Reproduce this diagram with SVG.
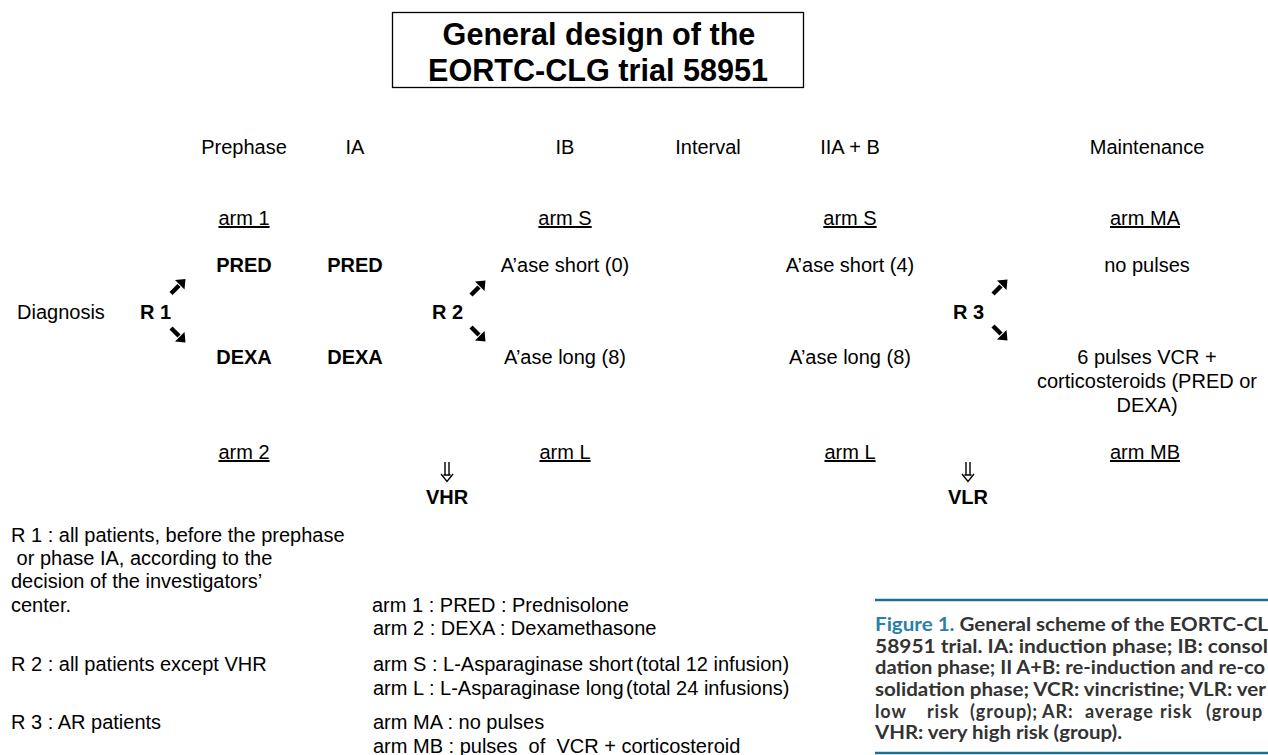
<svg xmlns="http://www.w3.org/2000/svg" width="1268" height="755" viewBox="0 0 1268 755">
<style>
text{font-family:"Liberation Sans",Arial,sans-serif;font-size:20px;fill:#000}
.c{text-anchor:middle}
.b{font-weight:bold}
.u{text-decoration:underline}
.t{font-size:30.6px;font-weight:bold;text-anchor:middle}
.cap{font-family:Lato,"Open Sans",sans-serif;font-size:18px;font-weight:bold;fill:#333}
.fig{fill:#2a80a8}
.dn{fill:none;stroke:#000;stroke-width:1.4}
</style>
<defs>
<g id="arr">
<line x1="-6.5" y1="6.5" x2="1.5" y2="-1.5" stroke="#000" stroke-width="4.4"/>
<polygon points="8,-8 -2.5,-7 7,2.5" fill="#000"/>
</g>
<path id="dbl" class="dn" d="M-2,-10 V3 M2,-10 V3 M-6,2 L0,9.5 L6,2 M-3.5,3 H3.5"/>
</defs>
<rect width="1268" height="755" fill="#fff"/>
<g id="title">
<rect x="392.5" y="12.5" width="411" height="75" fill="#fff" stroke="#000" stroke-width="1.3"/>
<text class="t" x="599" y="45">General design of the</text>
<text class="t" x="598" y="81">EORTC-CLG trial 58951</text>
</g>
<g id="headers">
<text class="c" x="244" y="154">Prephase</text>
<text class="c" x="355" y="154">IA</text>
<text class="c" x="565" y="154">IB</text>
<text class="c" x="708" y="154">Interval</text>
<text class="c" x="850" y="154">IIA + B</text>
<text class="c" x="1147" y="154">Maintenance</text>
</g>
<g id="arm-labels">
<text class="c u" x="244" y="225">arm 1</text>
<text class="c u" x="565" y="225">arm S</text>
<text class="c u" x="850" y="225">arm S</text>
<text class="c u" x="1145" y="225">arm MA</text>
<text class="c u" x="244" y="459">arm 2</text>
<text class="c u" x="565" y="459">arm L</text>
<text class="c u" x="850" y="459">arm L</text>
<text class="c u" x="1145" y="459">arm MB</text>
</g>
<g id="diagnosis"><text x="17" y="319">Diagnosis</text></g>
<g id="r1"><text class="b" x="140" y="319">R 1</text></g>
<g id="r2"><text class="b" x="432" y="319">R 2</text></g>
<g id="r3"><text class="b" x="953" y="319">R 3</text></g>
<g id="pred-prephase"><text class="c b" x="244" y="272">PRED</text></g>
<g id="pred-ia"><text class="c b" x="355" y="272">PRED</text></g>
<g id="dexa-prephase"><text class="c b" x="244" y="364">DEXA</text></g>
<g id="dexa-ia"><text class="c b" x="355" y="364">DEXA</text></g>
<g id="ib-short"><text class="c" x="565" y="272">A’ase short (0)</text></g>
<g id="ib-long"><text class="c" x="565" y="364">A’ase long (8)</text></g>
<g id="ii-short"><text class="c" x="850" y="272">A’ase short (4)</text></g>
<g id="ii-long"><text class="c" x="850" y="364">A’ase long (8)</text></g>
<g id="maint-a"><text class="c" x="1147" y="272">no pulses</text></g>
<g id="maint-b">
<text class="c" x="1147" y="364">6 pulses VCR +</text>
<text class="c" x="1147" y="388">corticosteroids (PRED or</text>
<text class="c" x="1147" y="412">DEXA)</text>
</g>
<g id="vhr"><text class="c b" x="447" y="504">VHR</text></g>
<g id="vlr"><text class="c b" x="968" y="504">VLR</text></g>
<g id="connectors">
<use href="#arr" transform="translate(177.5,287)"/>
<use href="#arr" transform="translate(177.5,334.5) scale(1,-1)"/>
<use href="#arr" transform="translate(477.5,288.5)"/>
<use href="#arr" transform="translate(477.5,333.5) scale(1,-1)"/>
<use href="#arr" transform="translate(999.5,287.5)"/>
<use href="#arr" transform="translate(999.5,332.5) scale(1,-1)"/>
<use href="#dbl" transform="translate(447,472)"/>
<use href="#dbl" transform="translate(968,472)"/>
</g>
<g id="legend-r">
<text x="11" y="542">R 1 : all patients, before the prephase</text>
<text x="11" y="565" xml:space="preserve"> or phase IA, according to the</text>
<text x="11" y="588">decision of the investigators’</text>
<text x="11" y="612">center.</text>
<text x="11" y="671">R 2 : all patients except VHR</text>
<text x="11" y="729">R 3 : AR patients</text>
</g>
<g id="legend-arms">
<text x="372" y="612">arm 1 : PRED : Prednisolone</text>
<text x="373" y="635">arm 2 : DEXA : Dexamethasone</text>
<text x="373" y="671">arm S : L-Asparaginase short<tspan dx="-3"> (total 12 infusion)</tspan></text>
<text x="373" y="695">arm L : L-Asparaginase long<tspan dx="-3"> (total 24 infusions)</tspan></text>
<text x="373" y="729">arm MA : no pulses</text>
<text x="373" y="753" xml:space="preserve">arm MB : pulses  of  VCR + corticosteroid</text>
</g>
<g id="caption">
<line x1="875" y1="600" x2="1268" y2="600" stroke="#1f6f94" stroke-width="2.5"/>
<line x1="875" y1="753" x2="1268" y2="753" stroke="#1f6f94" stroke-width="2.5"/>
<text class="cap" x="875" y="631" textLength="393" lengthAdjust="spacingAndGlyphs"><tspan class="fig">Figure 1.</tspan> General scheme of the EORTC-CL</text>
<text class="cap" x="875" y="653" textLength="393" lengthAdjust="spacingAndGlyphs">58951 trial. IA: induction phase; IB: consol</text>
<text class="cap" x="875" y="674" textLength="390" lengthAdjust="spacingAndGlyphs">dation phase; II A+B: re-induction and re-co</text>
<text class="cap" x="875" y="696" textLength="391" lengthAdjust="spacingAndGlyphs">solidation phase; VCR: vincristine; VLR: ver</text>
<text class="cap" y="718" letter-spacing="0.9"><tspan x="875">low</tspan> <tspan x="927">risk</tspan> <tspan x="970">(group);</tspan> <tspan x="1042">AR:</tspan> <tspan x="1085">average</tspan> <tspan x="1160">risk</tspan> <tspan x="1206">(group</tspan></text>
<text class="cap" x="875" y="739" textLength="247" lengthAdjust="spacingAndGlyphs">VHR: very high risk (group).</text>
</g>
</svg>
